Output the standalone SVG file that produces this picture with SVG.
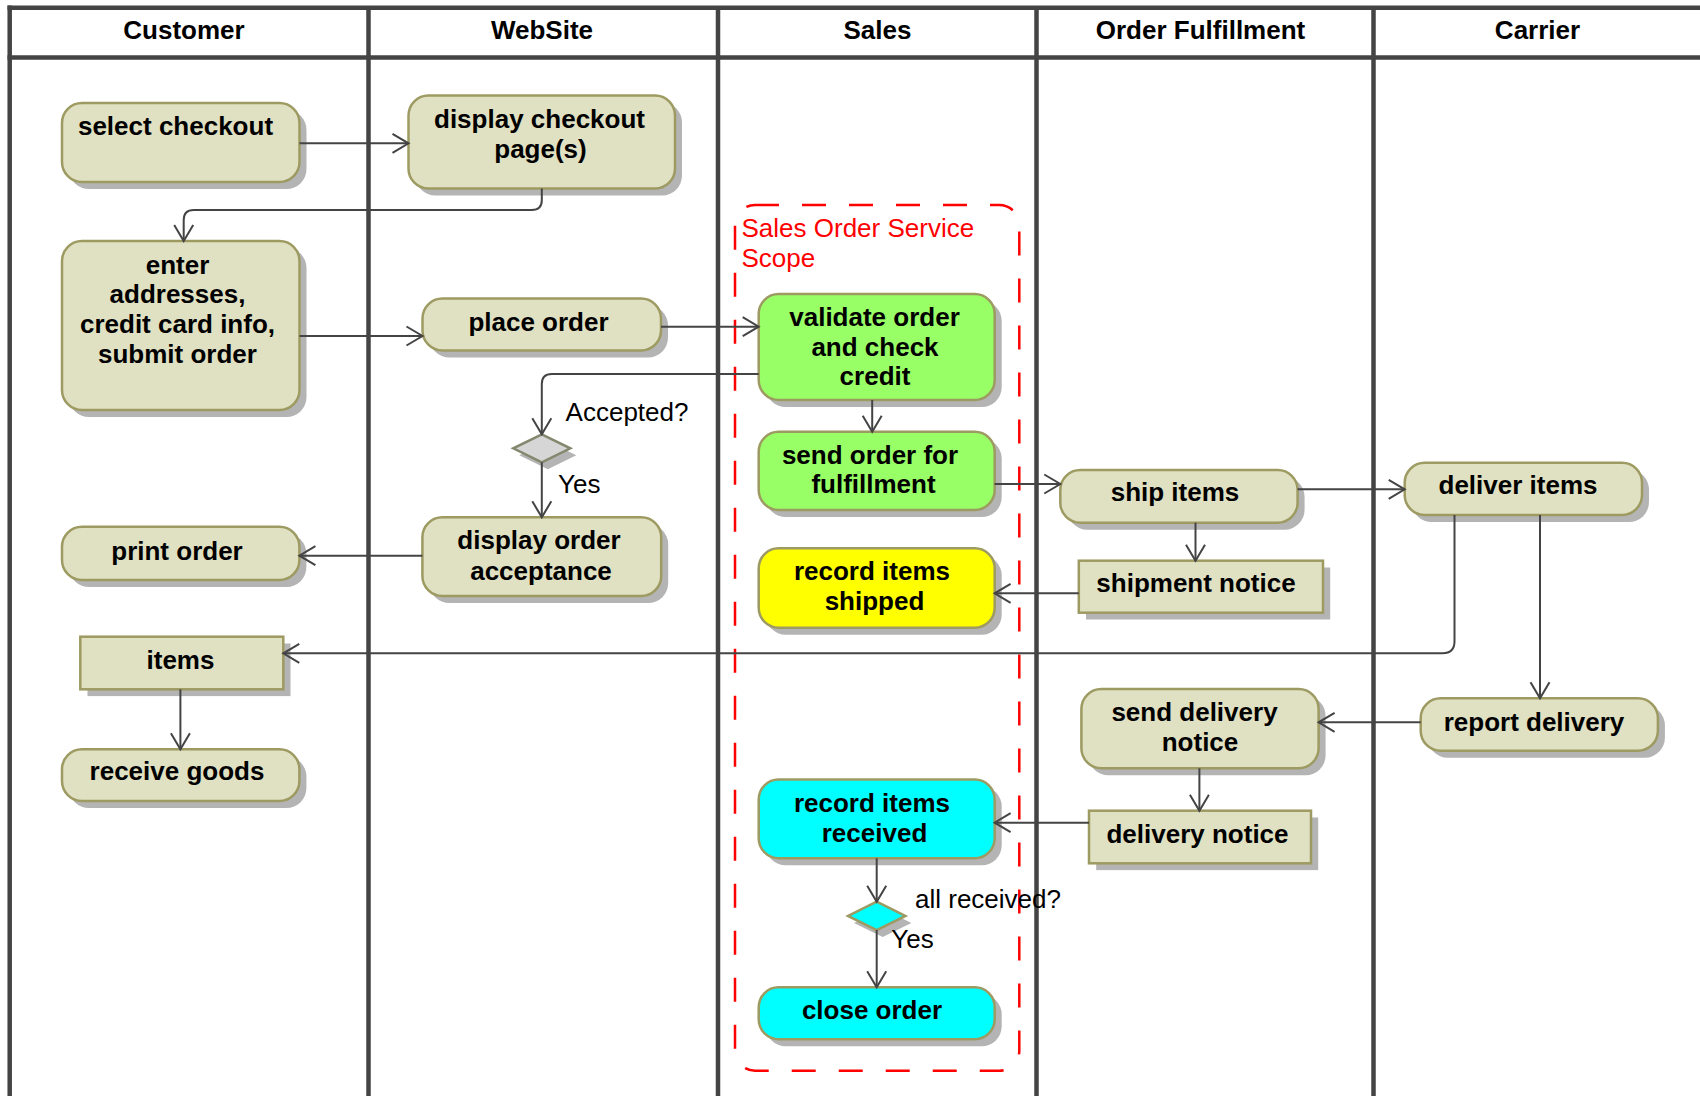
<svg xmlns="http://www.w3.org/2000/svg" width="1700" height="1096" viewBox="0 0 1700 1096">
  <defs>
    <style>
      .lane { stroke: #444444; stroke-width: 4.5; fill: none; }
      .hdr { font-family: "Liberation Sans", Arial, sans-serif; font-weight: bold; font-size: 26px; fill: #000; text-anchor: middle; }
      .act { fill: #e0e0c2; stroke: #9d9a62; stroke-width: 2.5; }
      .green { fill: #99ff66; }
      .yellow { fill: #ffff00; }
      .cyan { fill: #00ffff; }
      .gray { fill: #d6d6d6; stroke: #85876e; }
      .shadow { fill: #b4b4b4; stroke: none; }
      .lbl { font-family: "Liberation Sans", Arial, sans-serif; font-weight: bold; font-size: 26px; fill: #000; text-anchor: middle; }
      .guard { font-family: "Liberation Sans", Arial, sans-serif; font-size: 26px; fill: #000; }
      .scope { fill: none; stroke: #ff0000; stroke-width: 2.5; stroke-dasharray: 24 23; }
      .scopetxt { font-family: "Liberation Sans", Arial, sans-serif; font-size: 26px; fill: #ff0000; }
      .edge { fill: none; stroke: #444444; stroke-width: 2; marker-end: url(#open); }
    </style>
    <marker id="open" viewBox="-19 -12 22 24" refX="0" refY="0" markerWidth="22" markerHeight="24" markerUnits="userSpaceOnUse" orient="auto">
      <path d="M-16,-9.5 L0,0 L-16,9.5" fill="none" stroke="#444444" stroke-width="2"/>
    </marker>
  </defs>

  <rect x="0" y="0" width="1700" height="1096" fill="#ffffff"/>

  <!-- swimlane frame and headers -->
  <g id="lanes">
    <line class="lane" x1="7.5" y1="7.7" x2="1700" y2="7.7"/>
    <line class="lane" x1="7.5" y1="57.5" x2="1700" y2="57.5"/>
    <line class="lane" x1="9.7" y1="5.5" x2="9.7" y2="1096"/>
    <line class="lane" x1="368.5" y1="7.7" x2="368.5" y2="1096"/>
    <line class="lane" x1="718" y1="7.7" x2="718" y2="1096"/>
    <line class="lane" x1="1036.5" y1="7.7" x2="1036.5" y2="1096"/>
    <line class="lane" x1="1373.5" y1="7.7" x2="1373.5" y2="1096"/>
    <text class="hdr" x="184" y="39">Customer</text>
    <text class="hdr" x="542" y="39">WebSite</text>
    <text class="hdr" x="877.5" y="39">Sales</text>
    <text class="hdr" x="1200.5" y="39">Order Fulfillment</text>
    <text class="hdr" x="1537.5" y="39">Carrier</text>
  </g>

  <!-- service scope boundary -->
  <g id="scope">
    <rect class="scope" x="735" y="205" width="284.3" height="865.7" rx="20" ry="20"/>
    <text class="scopetxt" x="741.5" y="236.7">Sales Order Service</text>
    <text class="scopetxt" x="741.5" y="266.5">Scope</text>
  </g>

  <!-- Customer lane -->
  <g id="select-checkout">
    <rect class="shadow" x="69" y="110" width="237.5" height="79" rx="20"/>
    <rect class="act" x="62" y="103" width="237.5" height="79" rx="20"/>
    <text class="lbl" x="175.5" y="134.5">select checkout</text>
  </g>
  <g id="enter-addresses">
    <rect class="shadow" x="69" y="248" width="237.5" height="169" rx="20"/>
    <rect class="act" x="62" y="241" width="237.5" height="169" rx="20"/>
    <text class="lbl" x="177.5" y="273.5">enter</text>
    <text class="lbl" x="177.5" y="303.2">addresses,</text>
    <text class="lbl" x="177.5" y="332.9">credit card info,</text>
    <text class="lbl" x="177.5" y="362.6">submit order</text>
  </g>
  <g id="print-order">
    <rect class="shadow" x="69" y="533.7" width="237.4" height="53.3" rx="20"/>
    <rect class="act" x="62" y="526.7" width="237.4" height="53.3" rx="20"/>
    <text class="lbl" x="177" y="560">print order</text>
  </g>
  <g id="items">
    <rect class="shadow" x="87.5" y="643.5" width="203" height="52.6"/>
    <rect class="act" x="80.3" y="636.7" width="203" height="52.6"/>
    <text class="lbl" x="180.5" y="668.5">items</text>
  </g>
  <g id="receive-goods">
    <rect class="shadow" x="69" y="756.3" width="237.4" height="51.7" rx="20"/>
    <rect class="act" x="62" y="749.3" width="237.4" height="51.7" rx="20"/>
    <text class="lbl" x="177" y="780.3">receive goods</text>
  </g>

  <!-- WebSite lane -->
  <g id="display-checkout">
    <rect class="shadow" x="415.5" y="102.5" width="266.5" height="93" rx="20"/>
    <rect class="act" x="408.5" y="95.5" width="266.5" height="93" rx="20"/>
    <text class="lbl" x="539.5" y="127.5">display checkout</text>
    <text class="lbl" x="540.5" y="157.5">page(s)</text>
  </g>
  <g id="place-order">
    <rect class="shadow" x="429.5" y="305.5" width="238.5" height="52" rx="20"/>
    <rect class="act" x="422.5" y="298.5" width="238.5" height="52" rx="20"/>
    <text class="lbl" x="538.5" y="330.5">place order</text>
  </g>
  <g id="accepted-decision">
    <polygon class="shadow" points="547.8,441.3 576.3,455.3 547.8,469.3 519.3,455.3"/>
    <polygon class="act gray" points="541.8,434.3 570.3,448.3 541.8,462.3 513.3,448.3"/>
  </g>
  <g id="display-order-acceptance">
    <rect class="shadow" x="429.4" y="524.3" width="238.8" height="78.7" rx="20"/>
    <rect class="act" x="422.4" y="517.3" width="238.8" height="78.7" rx="20"/>
    <text class="lbl" x="539" y="549.3">display order</text>
    <text class="lbl" x="541" y="579.8">acceptance</text>
  </g>

  <!-- Sales lane -->
  <g id="validate-order">
    <rect class="shadow" x="765.7" y="301" width="236" height="106" rx="20"/>
    <rect class="act green" x="758.7" y="294" width="236" height="106" rx="20"/>
    <text class="lbl" x="874.5" y="326">validate order</text>
    <text class="lbl" x="875" y="355.5">and check</text>
    <text class="lbl" x="875" y="385">credit</text>
  </g>
  <g id="send-order">
    <rect class="shadow" x="765.7" y="438.7" width="236" height="78.3" rx="20"/>
    <rect class="act green" x="758.7" y="431.7" width="236" height="78.3" rx="20"/>
    <text class="lbl" x="870" y="463.7">send order for</text>
    <text class="lbl" x="873.5" y="492.7">fulfillment</text>
  </g>
  <g id="record-shipped">
    <rect class="shadow" x="765.7" y="555.3" width="236" height="79.4" rx="20"/>
    <rect class="act yellow" x="758.7" y="548.3" width="236" height="79.4" rx="20"/>
    <text class="lbl" x="872" y="580">record items</text>
    <text class="lbl" x="874.5" y="610">shipped</text>
  </g>
  <g id="record-received">
    <rect class="shadow" x="765.7" y="786.5" width="236" height="78.8" rx="20"/>
    <rect class="act cyan" x="758.7" y="779.5" width="236" height="78.8" rx="20"/>
    <text class="lbl" x="872" y="811.5">record items</text>
    <text class="lbl" x="874.5" y="841.5">received</text>
  </g>
  <g id="all-received-decision">
    <polygon class="shadow" points="882.7,908.7 911.4,922.9 882.7,937 854,922.9"/>
    <polygon class="act cyan" points="876.7,901.7 905.4,915.9 876.7,930 848,915.9"/>
  </g>
  <g id="close-order">
    <rect class="shadow" x="765.7" y="994.3" width="236" height="52" rx="20"/>
    <rect class="act cyan" x="758.7" y="987.3" width="236" height="52" rx="20"/>
    <text class="lbl" x="872" y="1019.3">close order</text>
  </g>

  <!-- Order Fulfillment lane -->
  <g id="ship-items">
    <rect class="shadow" x="1067.3" y="477" width="237.3" height="52.7" rx="20"/>
    <rect class="act" x="1060.3" y="470" width="237.3" height="52.7" rx="20"/>
    <text class="lbl" x="1175" y="501.3">ship items</text>
  </g>
  <g id="shipment-notice">
    <rect class="shadow" x="1086" y="567.5" width="244.2" height="52"/>
    <rect class="act" x="1078.8" y="560.7" width="244.2" height="52"/>
    <text class="lbl" x="1196" y="592.2">shipment notice</text>
  </g>
  <g id="send-delivery-notice">
    <rect class="shadow" x="1088.4" y="696" width="237.2" height="79.3" rx="20"/>
    <rect class="act" x="1081.4" y="689" width="237.2" height="79.3" rx="20"/>
    <text class="lbl" x="1194.5" y="721">send delivery</text>
    <text class="lbl" x="1200" y="751">notice</text>
  </g>
  <g id="delivery-notice">
    <rect class="shadow" x="1096.2" y="817.5" width="222" height="52.6"/>
    <rect class="act" x="1089" y="810.7" width="222" height="52.6"/>
    <text class="lbl" x="1197.5" y="842.5">delivery notice</text>
  </g>

  <!-- Carrier lane -->
  <g id="deliver-items">
    <rect class="shadow" x="1411.7" y="469.7" width="237.3" height="52.3" rx="20"/>
    <rect class="act" x="1404.7" y="462.7" width="237.3" height="52.3" rx="20"/>
    <text class="lbl" x="1518" y="494.2">deliver items</text>
  </g>
  <g id="report-delivery">
    <rect class="shadow" x="1427.7" y="705.3" width="237.2" height="52.4" rx="20"/>
    <rect class="act" x="1420.7" y="698.3" width="237.2" height="52.4" rx="20"/>
    <text class="lbl" x="1534" y="731">report delivery</text>
  </g>

  <!-- control and object flows, drawn above node shadows -->
  <g id="connectors">
    <path class="edge" d="M299.5,143.3 H408.5"/>
    <path class="edge" d="M541.8,188.5 V200 Q541.8,210 531.8,210 H193.7 Q183.7,210 183.7,220 V241"/>
    <path class="edge" d="M299.5,336 H422.5"/>
    <path class="edge" d="M661,326.7 H758.7"/>
    <path class="edge" d="M758.7,374 H551.8 Q541.8,374 541.8,384 V434.3"/>
    <path class="edge" d="M872.2,400 V431.7"/>
    <path class="edge" d="M541.8,462.3 V517.3"/>
    <path class="edge" d="M422.4,555.7 H299.4"/>
    <path class="edge" d="M994.6,484 H1060.3"/>
    <path class="edge" d="M1297.6,489.3 H1404.7"/>
    <path class="edge" d="M1195.5,522.7 V560.7"/>
    <path class="edge" d="M1078.8,593.3 H994.6"/>
    <path class="edge" d="M1454.5,515 V641.3 Q1454.5,653.3 1442.5,653.3 H283.3"/>
    <path class="edge" d="M1540,515 V698.3"/>
    <path class="edge" d="M1420.7,722.3 H1318.6"/>
    <path class="edge" d="M1199.4,768.3 V810.7"/>
    <path class="edge" d="M1089,822.7 H994.6"/>
    <path class="edge" d="M876.7,858.3 V901.7"/>
    <path class="edge" d="M876.7,930 V987.3"/>
    <path class="edge" d="M180.4,689.3 V749.3"/>
    <text class="guard" x="565.6" y="420.5">Accepted?</text>
    <text class="guard" x="558" y="492.5">Yes</text>
    <text class="guard" x="915" y="908">all received?</text>
    <text class="guard" x="891.3" y="947.5">Yes</text>
  </g>
</svg>
